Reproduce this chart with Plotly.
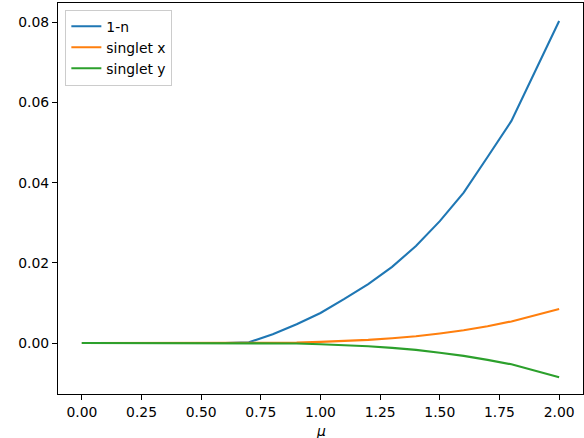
import plotly.graph_objects as go

mu = [0.0, 0.1, 0.2, 0.3, 0.4, 0.5, 0.6, 0.7, 0.8, 0.9, 1.0, 1.1, 1.2, 1.3, 1.4, 1.5, 1.6, 1.7, 1.8, 2.0]
one_minus_n = [0, 0, 0, 0, 0, 0, 0, 0.0002, 0.0022, 0.0047, 0.0075, 0.0110, 0.0147, 0.0190,
               0.0242, 0.0304, 0.0375, 0.0464, 0.0554, 0.0803]
singlet_x = [0, 0, 0, 0, 0, 0, 0, 0, 0.00003, 0.0001, 0.0003, 0.0005, 0.0008, 0.0012,
             0.0017, 0.0024, 0.0032, 0.0042, 0.0054, 0.0085]
singlet_y = [0, 0, 0, 0, 0, 0, 0, 0, -0.00003, -0.0001, -0.0003, -0.0005, -0.0008, -0.0012,
             -0.0017, -0.0024, -0.0032, -0.0042, -0.0053, -0.00855]

names = ["1-n", "singlet x", "singlet y"]
colors = ["#1f77b4", "#ff7f0e", "#2ca02c"]
x_label = "μ"

fig = go.Figure()
for name, ys, c in zip(names, [one_minus_n, singlet_x, singlet_y], colors):
    fig.add_trace(go.Scatter(x=mu, y=ys, mode="lines", name=name,
                             line=dict(color=c, width=2.1)))

font = "DejaVu Sans, sans-serif"
fs = 13.9
axis_common = dict(showline=True, linecolor="black", linewidth=1.1, mirror=True,
                   ticks="outside", ticklen=5, tickwidth=1.1, tickcolor="black",
                   showgrid=False, zeroline=False, automargin=False,
                   tickfont=dict(family=font, size=fs, color="black"))

fig.update_layout(
    width=584, height=438,
    margin=dict(l=58, r=1, t=3, b=44),
    paper_bgcolor="white", plot_bgcolor="white",
    font=dict(family=font, size=fs, color="black"),
    xaxis=dict(range=[-0.1, 2.1], tickvals=[0, 0.25, 0.5, 0.75, 1.0, 1.25, 1.5, 1.75, 2.0],
               tickformat=".2f", **axis_common),
    yaxis=dict(range=[-0.0127, 0.0848], tickvals=[0, 0.02, 0.04, 0.06, 0.08],
               tickformat=".2f", **axis_common),
    legend=dict(x=0.014, y=0.983, xanchor="left", yanchor="top",
                bgcolor="rgba(255,255,255,0.8)", bordercolor="#cccccc", borderwidth=1,
                font=dict(family=font, size=fs)),
    showlegend=True,
    annotations=[dict(text="<i>" + x_label + "</i>", x=0.5, y=-0.094, xref="paper", yref="paper",
                      xanchor="center", yanchor="middle", showarrow=False,
                      font=dict(family=font, size=fs, color="black"))],
)

fig.write_html("out.html", config={"displayModeBar": False},
               post_script="document.body.style.margin='0';document.body.style.overflow='hidden';")
